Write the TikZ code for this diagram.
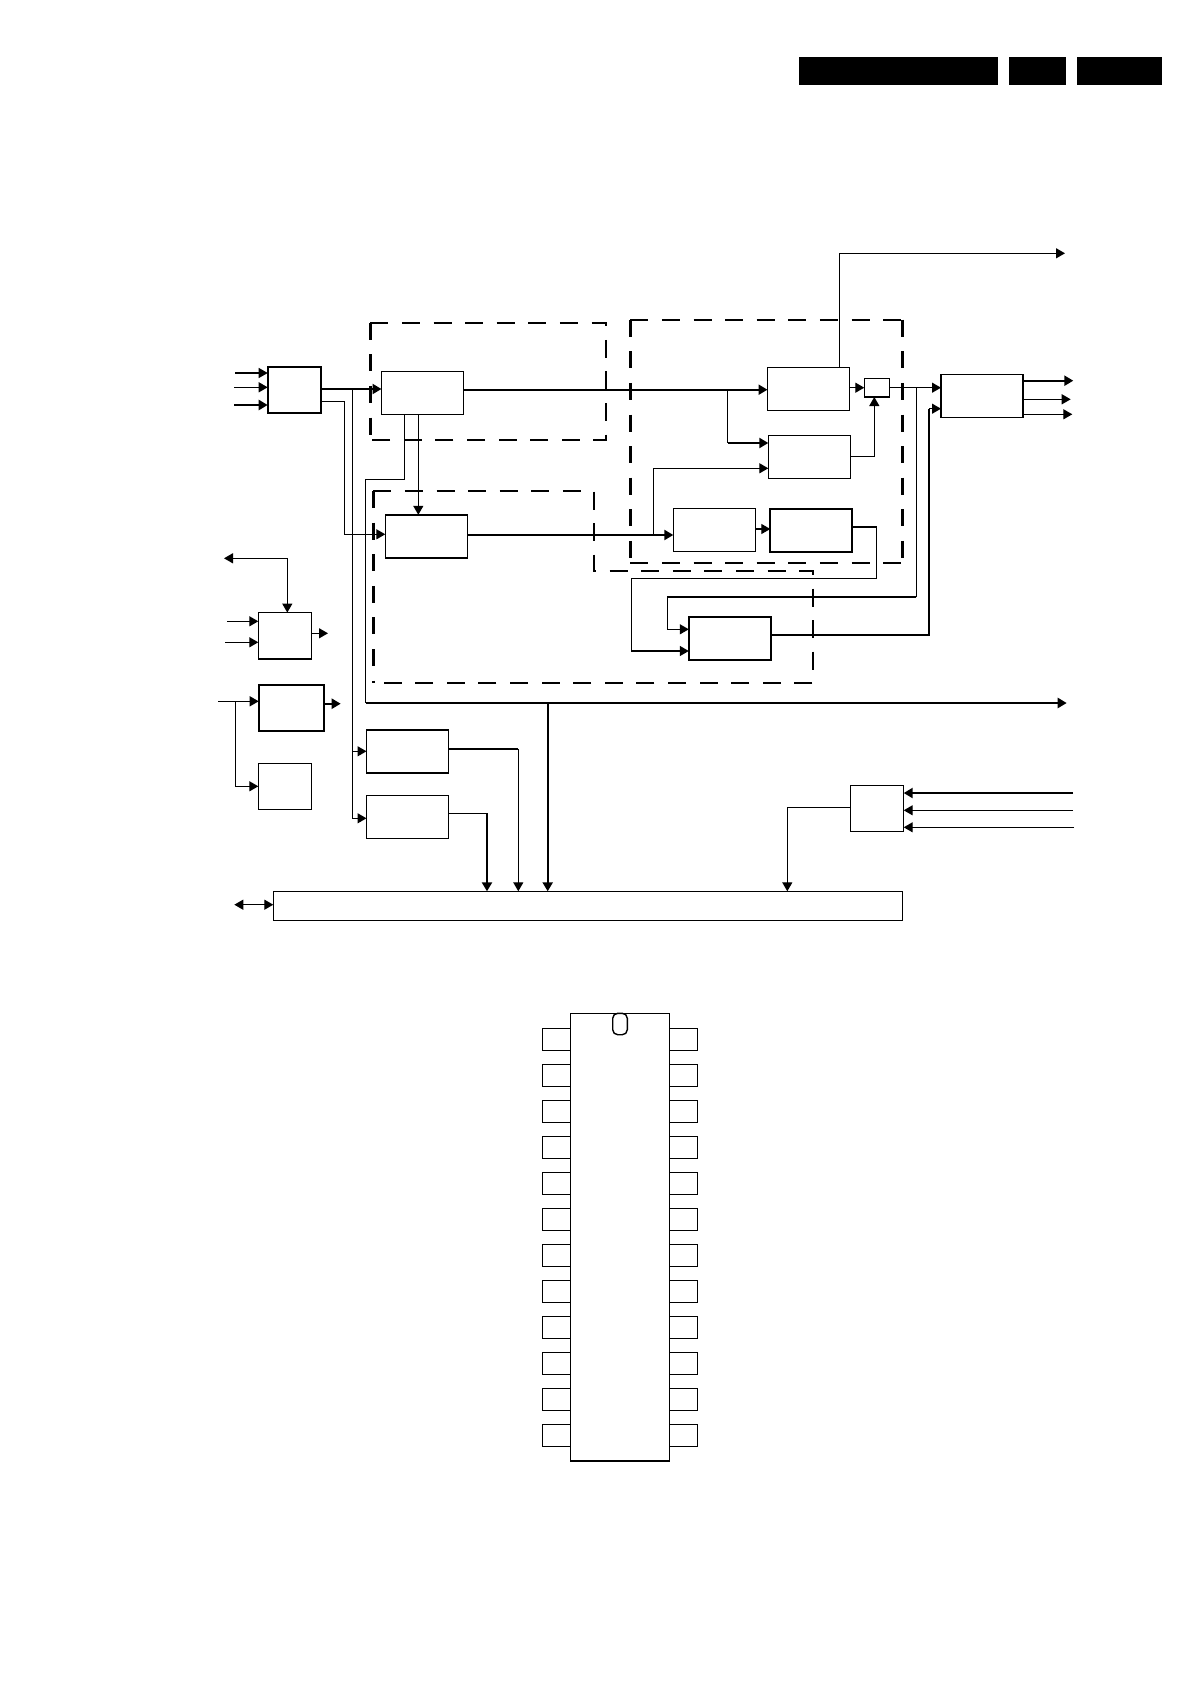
\documentclass[tikz,border=0pt]{standalone}
\usepackage{tikz}
\usetikzlibrary{arrows.meta,calc}

\begin{document}
\begin{tikzpicture}[
    x=0.5pt, y=-0.5pt,
    >={Triangle[length=4.5pt,width=5pt]},
    block/.style={draw, line width=0.7pt, inner sep=0pt, outer sep=0pt, minimum width=41pt, minimum height=21.5pt},
    heavy/.style={block, line width=1.1pt},
    bar/.style={fill=black, inner sep=0pt, outer sep=0pt, minimum height=14pt},
    pin/.style={draw, line width=0.7pt, inner sep=0pt, outer sep=0pt, minimum width=14pt, minimum height=11pt},
    wire/.style={line width=0.65pt},
    wireb/.style={line width=1.1pt},
    arrow/.style={->, line width=0.65pt},
    arrowb/.style={->, line width=1.1pt},
    dashbox/.style={line width=1pt, dash pattern=on 9pt off 6.8pt},
    dashside/.style={line width=1.4pt, dash pattern=on 8.5pt off 7.3pt},
]
\useasboundingbox (0,0) rectangle (1191,1685);

% page header
\node[bar, minimum width=99.5pt] (hdra) at (898.5,71) {};
\node[bar, minimum width=28.5pt] (hdrb) at (1037.5,71) {};
\node[bar, minimum width=42.5pt] (hdrc) at (1119.5,71) {};

% dashed groups
\draw[dashbox] (370.3,322.7) -- (606,322.7) -- (606,440) -- (370.3,440);
\draw[dashside] (370.3,322.7) -- (370.3,440);
\draw[dashbox] (630.3,319.7) -- (902.7,319.7);
\draw[dashbox] (630.3,562.7) -- (902.7,562.7);
\draw[dashside] (630.3,319.7) -- (630.3,562.7);
\draw[dashside] (902.7,319.7) -- (902.7,562.7);
\draw[dashbox] (373.3,491) -- (594,491) -- (594,570.7) -- (813,570.7) -- (813,682.7) -- (373.3,682.7);
\draw[dashside] (373.3,491) -- (373.3,682.7);

% blocks
\node[heavy, minimum width=26.8pt, minimum height=23.3pt] (input) at (294.5,390) {};
\node[block] (tuner) at (422.5,392.8) {};
\node[block] (demod) at (426.3,536.3) {};
\node[block, minimum width=26.5pt, minimum height=23.2pt] (ctrl) at (284.8,635.8) {};
\node[heavy, minimum width=32.8pt, minimum height=23pt] (clock) at (291.5,708.3) {};
\node[block, minimum width=26.5pt, minimum height=23pt] (supply) at (284.8,786.3) {};
\node[block] (adca) at (407.5,751.3) {};
\node[block] (adcb) at (407.5,816.8) {};
\node[block, minimum width=314.5pt, minimum height=14.5pt] (bus) at (587.8,905.8) {};
\node[block, minimum width=26.7pt, minimum height=23pt] (sense) at (877,808.3) {};
\node[block] (mixa) at (808.5,388.8) {};
\node[block, minimum width=12.5pt, minimum height=9.3pt] (sum) at (876.8,387.7) {};
\node[block] (mixb) at (809.3,456.8) {};
\node[block] (filta) at (714.3,529.8) {};
\node[heavy] (filtb) at (811.3,530.7) {};
\node[block] (switch) at (729.8,638.5) {};
\node[block] (output) at (982,395.8) {};

% free ends
\coordinate (ina) at (235,373);
\coordinate (inb) at (234,387.3);
\coordinate (inc) at (234,405);
\coordinate (ctla) at (227,621.3);
\coordinate (ctlb) at (225,642.3);
\coordinate (ctlc) at (224,558.3);
\coordinate (ctld) at (328,633.3);
\coordinate (clka) at (218,701.3);
\coordinate (clkb) at (340.7,703.7);
\coordinate (busl) at (234.3,904.7);
\coordinate (topout) at (1065,253.3);
\coordinate (midout) at (1066.7,703);
\coordinate (outa) at (1073.3,380.7);
\coordinate (outb) at (1070.7,399.3);
\coordinate (outc) at (1072.3,414.3);
\coordinate (sna) at (1073,793);
\coordinate (snb) at (1073,810.3);
\coordinate (snc) at (1074,827.3);

% inputs
\draw[arrow] (ina) -- (input.west |- ina);
\draw[arrow] (inb) -- (input.west |- inb);
\draw[arrowb] (inc) -- (input.west |- inc);
\draw[arrow] (ctla) -- (ctrl.west |- ctla);
\draw[arrow] (ctlb) -- (ctrl.west |- ctlb);
\draw[<->, wire] (ctlc) -| (ctrl.north -| 287.3,0);
\draw[arrow] (ctrl.east |- ctld) -- (ctld);
\draw[arrow] (clka) -- (clock.west |- clka);
\draw[arrowb] (clock.east |- clkb) -- (clkb);
\draw[arrow] (235.7,701.3) |- (supply.west);

% main signal path
\draw[arrowb] (input.east |- 0,389) -- (tuner.west |- 0,389);
\draw[arrow] (input.east |- 0,401.3) -- (344.7,401.3) |- (demod.west |- 0,534.3);
\draw[wire] (352.3,389) -- (352.3,818.3);
\draw[arrow] (352.3,751.3) -- (adca.west |- 0,751.3);
\draw[arrow] (352.3,818.3) -- (adcb.west |- 0,818.3);
\draw[arrowb] (tuner.east |- 0,389.7) -- (mixa.west |- 0,389.7);
\draw[wire] (727.7,389.7) -- (727.7,443);
\draw[arrowb] (727.7,443) -- (mixb.west |- 0,443);
\draw[arrow] (tuner.south -| 418.3,0) -- (demod.north -| 418.3,0);
\draw[wire] (tuner.south -| 404.3,0) |- (365.7,479.3) -- (365.7,703);
\draw[arrowb] (365.7,703) -- (midout);
\draw[arrowb] (547.7,703) -- (bus.north -| 547.7,0);
\draw[arrowb] (demod.east |- 0,535) -- (filta.west |- 0,535);
\draw[arrow] (653.3,535) |- (mixb.west |- 0,468.3);
\draw[arrow] (filta.east |- 0,529) -- (filtb.west |- 0,529);
\draw[arrow] (filtb.east |- 0,527) -| (876.7,578.7) -| (631.7,651) -- (switch.west |- 0,651);

% output section
\draw[arrow] (mixa.east |- sum) -- (sum.west);
\draw[arrow] (mixb.east) -| (sum.south -| 874.3,0);
\draw[arrow] (mixa.north -| 839.3,0) |- (topout);
\draw[arrow] (sum.east) -- (output.west |- sum.east);
\draw[wire] (916.3,387.7) -- (916.3,597);
\draw[wireb] (916.3,597) -- (667.3,597);
\draw[arrow] (667.3,597) |- (switch.west |- 0,629.3);
\draw[wireb] (switch.east |- 0,635) -| (929,408.7);
\draw[arrow] (929,408.7) -- (output.west |- 0,408.7);
\draw[arrowb] (output.east |- outa) -- (outa);
\draw[arrow] (output.east |- outb) -- (outb);
\draw[arrow] (output.east |- outc) -- (outc);

% into the bus
\draw[wireb] (adca.east |- 0,749) -- (518.3,749);
\draw[arrow] (518.3,749) -- (bus.north -| 518.3,0);
\draw[wire] (adcb.east |- 0,813.3) -- (487,813.3);
\draw[arrowb] (487,813.3) -- (bus.north -| 487,0);
\draw[arrow] (sense.west |- 0,807.3) -| (bus.north -| 787.3,0);
\draw[<->, wire] (busl) -- (bus.west |- busl);
\draw[arrowb] (sna) -- (sense.east |- sna);
\draw[arrow] (snb) -- (sense.east |- snb);
\draw[arrow] (snc) -- (sense.east |- snc);

% package outline with 2x12 pins
\node[block, minimum width=49.5pt, minimum height=223.9pt] (chip) at (619.8,1237.2) {};
\draw[line width=0.7pt, rounded corners=2.5pt] (612.7,1013.3) rectangle (627.3,1034.7);
\foreach \n in {0,...,11} {
    \node[pin] (pinl\n) at (556.5,1039.5+36*\n) {};
    \node[pin] (pinr\n) at (683.3,1039.5+36*\n) {};
}
\end{tikzpicture}
\end{document}
